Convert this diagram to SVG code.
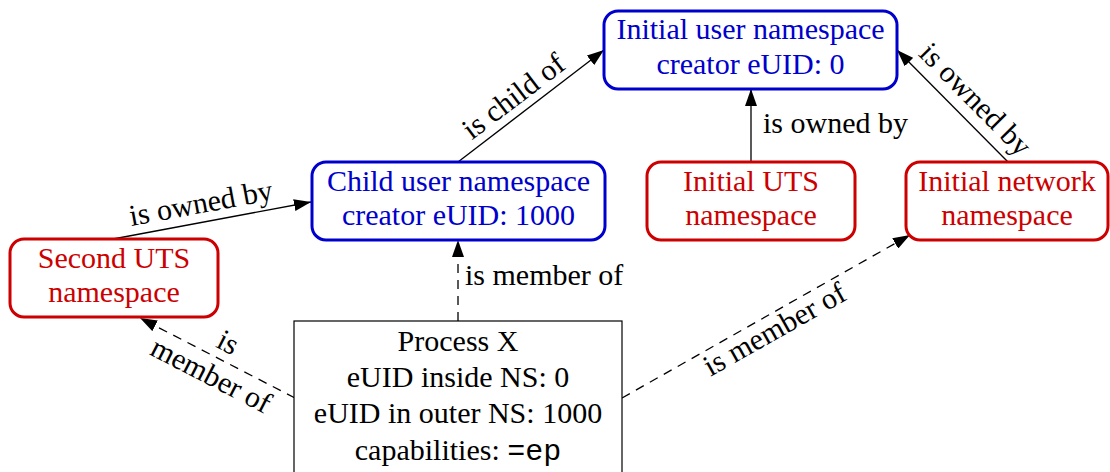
<svg xmlns="http://www.w3.org/2000/svg" width="1110" height="472" viewBox="0 0 1110 472">
<style>
text{font-family:"Liberation Serif","Times New Roman",serif;font-size:30px;text-anchor:middle}
.blue rect{fill:#fff;stroke:#0000cc;stroke-width:3}
.blue text{fill:#0000cc}
.red rect{fill:#fff;stroke:#cc0000;stroke-width:3}
.red text{fill:#cc0000}
.proc rect{fill:#fff;stroke:#000;stroke-width:1.2}
.proc text{fill:#000}
.mono{font-family:"Liberation Mono","Courier New",monospace}
.edge{stroke:#000;stroke-width:1.3;fill:none;marker-end:url(#arr)}
.dash{stroke-dasharray:9,7}
.lbl{fill:#000}
</style>
<defs>
<marker id="arr" markerUnits="userSpaceOnUse" markerWidth="18" markerHeight="12" refX="17" refY="6" orient="auto">
<path d="M0,0 L17,6 L0,12 z" fill="#000"/>
</marker>
</defs>
<rect width="1110" height="472" fill="#fff"/>
<g id="connectors">
<line class="edge" x1="458" y1="162" x2="604" y2="50"/>
<line class="edge" x1="751" y1="162" x2="751" y2="89"/>
<line class="edge" x1="1008" y1="162" x2="897" y2="50"/>
<line class="edge" x1="113" y1="239" x2="311" y2="202"/>
<line class="edge dash" x1="458" y1="321" x2="458" y2="240"/>
<line class="edge dash" x1="295" y1="398" x2="140" y2="318"/>
<line class="edge dash" x1="622" y1="398" x2="910" y2="235"/>
<text class="lbl" transform="translate(514,97) rotate(-37.3)" y="9">is child of</text>
<text class="lbl" x="763" y="133" style="text-anchor:start">is owned by</text>
<text class="lbl" transform="translate(975,100) rotate(45.3)" y="9">is owned by</text>
<text class="lbl" transform="translate(201,204) rotate(-10.5)" y="9">is owned by</text>
<text class="lbl" x="465" y="285" style="text-anchor:start">is member of</text>
<text class="lbl" transform="translate(775,330) rotate(-29.5)" y="9">is member of</text>
<g transform="translate(219,360) rotate(27.3)">
<text class="lbl" y="-10">is</text>
<text class="lbl" y="27">member of</text>
</g>
</g>
<g id="initial-user-ns" class="blue">
<rect x="604" y="11" width="293" height="78" rx="14"/>
<text x="750.5" y="39">Initial user namespace</text>
<text x="750.5" y="74">creator eUID: 0</text>
</g>
<g id="child-user-ns" class="blue">
<rect x="312" y="162" width="293" height="78" rx="14"/>
<text x="458.5" y="191">Child user namespace</text>
<text x="458.5" y="225">creator eUID: 1000</text>
</g>
<g id="initial-uts-ns" class="red">
<rect x="647" y="162" width="208" height="78" rx="14"/>
<text x="751" y="191">Initial UTS</text>
<text x="751" y="225">namespace</text>
</g>
<g id="initial-net-ns" class="red">
<rect x="906" y="162" width="202" height="78" rx="14"/>
<text x="1007" y="191">Initial network</text>
<text x="1007" y="225">namespace</text>
</g>
<g id="second-uts-ns" class="red">
<rect x="10" y="239" width="208" height="78" rx="14"/>
<text x="114" y="268">Second UTS</text>
<text x="114" y="302">namespace</text>
</g>
<g id="process-x" class="proc">
<rect x="294" y="321" width="328" height="170"/>
<text x="458" y="351">Process X</text>
<text x="458" y="387">eUID inside NS: 0</text>
<text x="458" y="423">eUID in outer NS: 1000</text>
<text x="458" y="460">capabilities: <tspan class="mono">=ep</tspan></text>
</g>
</svg>
